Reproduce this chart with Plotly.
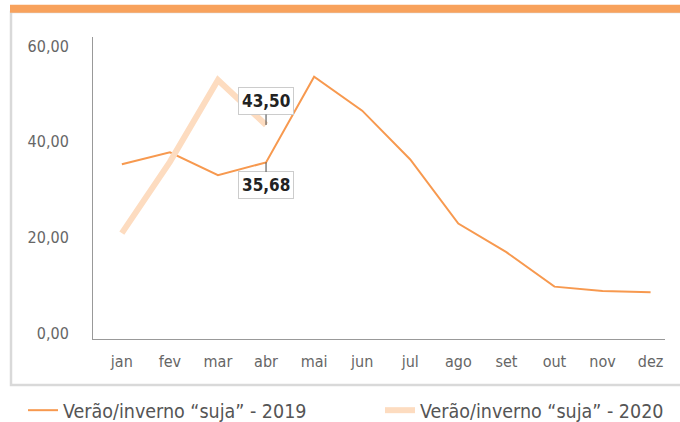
import plotly.graph_objects as go

months = ["jan", "fev", "mar", "abr", "mai", "jun", "jul", "ago", "set", "out", "nov", "dez"]
vals_2019 = [35.3, 37.8, 33.0, 35.68, 53.6, 46.5, 36.3, 22.9, 16.9, 9.7, 8.8, 8.5]
months_2020 = ["jan", "fev", "mar", "abr"]
vals_2020 = [20.9, 35.8, 52.9, 43.50]
name_2019 = "Verão/inverno “suja” - 2019"
name_2020 = "Verão/inverno “suja” - 2020"
ytick_vals = [0, 20, 40, 60]
ytick_text = ["0,00", "20,00", "40,00", "60,00"]

FONT = "DejaVu Sans Condensed, Liberation Sans Narrow, Arial Narrow, sans-serif"
C19 = "#F7994F"
C20 = "#FDDCC0"

W, H = 680, 422
L, R, T, B = 93, 15, 37, 83
pw, ph = W - L - R, H - T - B


def px(x):
    return (x - L) / pw


def py(y):
    return (H - B - y) / ph


fig = go.Figure()
fig.add_trace(go.Scatter(x=months, y=vals_2019, mode="lines", name=name_2019,
                         line=dict(color=C19, width=2), legend="legend"))
fig.add_trace(go.Scatter(x=months_2020, y=vals_2020, mode="lines", name=name_2020,
                         line=dict(color=C20, width=6), legend="legend2"))


def fmt(v):
    return f"{v:.2f}".replace(".", ",")


ann_common = dict(showarrow=True, arrowhead=0, arrowwidth=1, arrowcolor="#444",
                  ax=0, bgcolor="white", bordercolor="#cccccc", borderwidth=1,
                  borderpad=3, font=dict(family=FONT, size=17, color="#222"))
fig.add_annotation(x=months_2020[3], y=vals_2020[3], text=f"<b>{fmt(vals_2020[3])}</b>",
                   ay=-24, **ann_common)
fig.add_annotation(x=months[3], y=vals_2019[3], text=f"<b>{fmt(vals_2019[3])}</b>",
                   ay=23, **ann_common)

# frame and top bar
fig.add_shape(type="rect", xref="paper", yref="paper",
              x0=px(11), x1=px(686), y0=py(385), y1=py(12),
              line=dict(color="#d9d9d9", width=2.5), fillcolor="rgba(0,0,0,0)", layer="below")
fig.add_shape(type="rect", xref="paper", yref="paper",
              x0=px(10), x1=px(686), y0=py(12.7), y1=py(4.7),
              line=dict(width=0), fillcolor="#F8A25C")

leg_common = dict(orientation="h", y=py(391), xanchor="left", yanchor="top",
                  font=dict(family=FONT, size=19.5, color="#555"), itemwidth=30,
                  bgcolor="rgba(0,0,0,0)")

fig.update_layout(
    width=W, height=H,
    margin=dict(l=L, r=R, t=T, b=B, autoexpand=False),
    paper_bgcolor="white", plot_bgcolor="white",
    font=dict(family=FONT, color="#666"),
    showlegend=True,
    legend=dict(x=px(23), **leg_common),
    legend2=dict(x=px(380), **leg_common),
    xaxis=dict(type="category", categoryorder="array", categoryarray=months,
               range=[-0.6, 11.3], showgrid=False, showline=True, linecolor="#999",
               linewidth=1, ticks="", tickfont=dict(family=FONT, size=16, color="#666"),
               ticklabelstandoff=8, zeroline=False, automargin=False),
    yaxis=dict(range=[-1.25, 61.9], tickvals=ytick_vals, ticktext=ytick_text,
               showgrid=False, showline=True, linecolor="#999", linewidth=1,
               ticks="", tickfont=dict(family=FONT, size=16, color="#666"),
               ticklabelstandoff=20, zeroline=False, automargin=False),
)

fig.write_html("out.html", config={"displayModeBar": False},
               post_script="document.body.style.margin='0px';document.body.style.overflow='hidden';")
